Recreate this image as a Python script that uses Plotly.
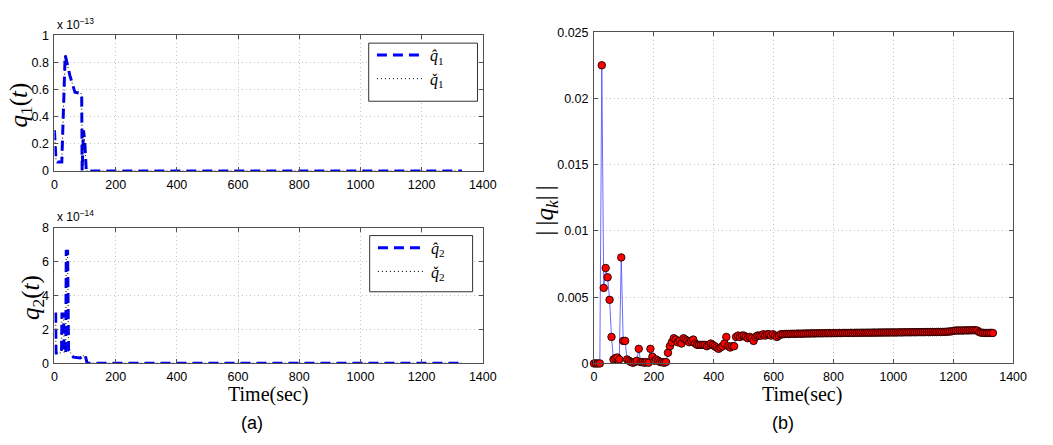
import plotly.graph_objects as go

W, H = 1053, 445

# ---------------- Data ----------------
# Panel (a) top: q1(t), values in units of 1e-13
q1_time = [0, 5, 10, 24, 35, 51, 67, 89, 90.5, 95, 99, 104, 1332]
q1_hat = [0.30, 0.08, 0.066, 0.066, 0.855, 0.70, 0.58, 0.57, 0.0, 0.30, 0.22, 0.0, 0.0]
q1_check = [0.30, 0.08, 0.066, 0.066, 0.855, 0.70, 0.58, 0.57, 0.0, 0.30, 0.22, 0.0, 0.0]

# Panel (a) bottom: q2(t), values in units of 1e-14
q2_time = [0, 4, 5, 23, 24.5, 30, 31.5, 37, 38.5, 43, 46, 62, 84, 95, 100, 106, 110, 1332]
q2_hat = [2.9, 2.9, 0.6, 0.6, 2.9, 2.9, 0.6, 0.6, 6.6, 6.6, 0.8, 0.35, 0.3, 0.45, 0.5, 0.05, 0.0, 0.0]
q2_check = [2.9, 2.9, 0.6, 0.6, 2.9, 2.9, 0.6, 0.6, 6.6, 6.6, 0.8, 0.35, 0.3, 0.45, 0.5, 0.05, 0.0, 0.0]

# Panel (b): ||q_k|| sampled every 6.5 s
qk_norm = [
    0, 0, 0, 0, 0.0225, 0.0057, 0.0072, 0.0065, 0.0048, 0.0020,
    0.0003, 0.0004, 0.00045, 0.0003, 0.0080, 0.0017, 0.0017, 0.0003, 0.0002, 0.0001,
    0.00005, 0.0001, 0.0002, 0.0011, 0.0001, 0.0001, 0.00005, 0.0001, 0.00005, 0.0011,
    0.0005, 0.0002, 0.0003, 0.0002, 0.0001, 0.0001, 0.00005, 0.0001, 0.0008, 0.0013,
    0.0016, 0.0019, 0.0018, 0.0016, 0.0017, 0.0015, 0.0019, 0.0018, 0.0017, 0.0016,
    0.0017, 0.0018, 0.0015, 0.0014, 0.0014, 0.0014, 0.0014, 0.0014, 0.0013, 0.0014,
    0.0015, 0.0014, 0.0013, 0.0012, 0.0011, 0.0012, 0.0013, 0.0015, 0.0020, 0.0013,
    0.0012, 0.0013, 0.0013, 0.0020, 0.0021, 0.0020, 0.0021, 0.0021, 0.0020, 0.0019,
    0.0020, 0.0019, 0.0017, 0.0020, 0.0021, 0.0021, 0.0021, 0.0022, 0.0021, 0.0022,
    0.0022, 0.0021, 0.0022, 0.0021, 0.0020, 0.0021, 0.0022, 0.0022,
    0.00222, 0.00223, 0.00222, 0.00223, 0.00224, 0.00223, 0.00224, 0.00225, 0.00224, 0.00225, 0.00225, 0.00226,
    0.00226, 0.00226, 0.00227, 0.00226, 0.00227, 0.00227, 0.00228, 0.00227, 0.00228, 0.00228,
    0.00228, 0.00229, 0.00228, 0.00229, 0.00229, 0.00229, 0.0023, 0.00229, 0.0023, 0.0023,
    0.0023, 0.0023, 0.00231, 0.0023, 0.00231, 0.00231, 0.00231, 0.00231, 0.00232, 0.00231,
    0.00232, 0.00232, 0.00232, 0.00232, 0.00233, 0.00232, 0.00233, 0.00233, 0.00233, 0.00233,
    0.00234, 0.00233, 0.00234, 0.00234, 0.00234, 0.00234, 0.00234, 0.00235, 0.00234, 0.00235,
    0.00235, 0.00235, 0.00235, 0.00235, 0.00236, 0.00235, 0.00236, 0.00236, 0.00236, 0.00236,
    0.00236, 0.00237, 0.00236, 0.00237, 0.00237, 0.00237, 0.00237, 0.00238, 0.00237, 0.00238,
    0.00238, 0.00239, 0.0024, 0.00241, 0.00243,
    0.00247, 0.00248, 0.00248, 0.00249, 0.00248, 0.00249, 0.0025, 0.00249, 0.0025, 0.0025, 0.00251, 0.0025, 0.00248,
    0.00236, 0.00232, 0.00231, 0.0023, 0.0023, 0.0023, 0.00231, 0.0023,
]
qk_time = [6.5 * i for i in range(len(qk_norm))]

x_ticks = [0, 200, 400, 600, 800, 1000, 1200, 1400]
q1_ticks = [0, 0.2, 0.4, 0.6, 0.8, 1]
q1_ticklabels = ["0", "0.2", "0.4", "0.6", "0.8", "1"]
q2_ticks = [0, 2, 4, 6, 8]
qk_ticks = [0, 0.005, 0.01, 0.015, 0.02, 0.025]
qk_ticklabels = ["0", "0.005", "0.01", "0.015", "0.02", "0.025"]

# ---------------- Figure ----------------
def px_x(p):
    return p / W

def px_y(p):
    return 1 - p / H

fig = go.Figure()

BLUE = "#0000ff"
dash_blue = "10px,6px"

fig.add_trace(go.Scatter(x=q1_time, y=q1_hat, mode="lines", name="<i>q̂</i><sub>1</sub>",
                         line=dict(color=BLUE, width=3, dash=dash_blue), xaxis="x", yaxis="y",
                         legend="legend", cliponaxis=False))
fig.add_trace(go.Scatter(x=q1_time, y=q1_check, mode="lines", name="<i>q̌</i><sub>1</sub>",
                         line=dict(color="black", width=1, dash="1px,3px"), xaxis="x", yaxis="y",
                         legend="legend", cliponaxis=False))
fig.add_trace(go.Scatter(x=q2_time, y=q2_hat, mode="lines", name="<i>q̂</i><sub>2</sub>",
                         line=dict(color=BLUE, width=3, dash=dash_blue), xaxis="x2", yaxis="y2",
                         legend="legend2", cliponaxis=False))
fig.add_trace(go.Scatter(x=q2_time, y=q2_check, mode="lines", name="<i>q̌</i><sub>2</sub>",
                         line=dict(color="black", width=1, dash="1px,3px"), xaxis="x2", yaxis="y2",
                         legend="legend2", cliponaxis=False))
fig.add_trace(go.Scatter(x=qk_time, y=qk_norm, mode="lines+markers", showlegend=False,
                         line=dict(color="rgba(70,70,255,0.8)", width=1),
                         marker=dict(size=7.5, color="#ff0000", line=dict(color="#1a0000", width=0.9)),
                         xaxis="x3", yaxis="y3", cliponaxis=False))

AX_COLOR = "#505050"
tick_font = dict(family="Liberation Sans, Arial, sans-serif", size=12.5, color="black")

def axis_common():
    return dict(showline=True, linecolor=AX_COLOR, linewidth=1, mirror="ticks",
                ticks="inside", ticklen=4, tickcolor=AX_COLOR, tickwidth=1,
                showgrid=True, gridcolor="#c4c4c4", griddash="1px,3px", gridwidth=1,
                zeroline=False, tickfont=tick_font, fixedrange=True, ticklabelstandoff=2)

# domains
xa_left = [px_x(52.3), px_x(487.7)]
ya_top = [px_y(169.3), px_y(29.3)]
ya_bot = [px_y(367.7), px_y(227.7)]
xa_right = [px_x(600.7), px_x(1026.7)]
ya_right = [px_y(368), px_y(26)]

legend_font = dict(family="Liberation Serif, Times New Roman, serif", size=16, color="black")

fig.update_layout(
    width=W, height=H, autosize=False,
    margin=dict(l=0, r=0, t=0, b=0),
    paper_bgcolor="white", plot_bgcolor="white",
    xaxis=dict(domain=xa_left, anchor="y", range=[0, 1400], tickvals=x_ticks, **axis_common()),
    yaxis=dict(domain=ya_top, anchor="x", range=[0, 1], tickvals=q1_ticks, ticktext=q1_ticklabels, **axis_common()),
    xaxis2=dict(domain=xa_left, anchor="y2", range=[0, 1400], tickvals=x_ticks, **axis_common()),
    yaxis2=dict(domain=ya_bot, anchor="x2", range=[0, 8], tickvals=q2_ticks, **axis_common()),
    xaxis3=dict(domain=xa_right, anchor="y3", range=[0, 1400], tickvals=x_ticks, **axis_common()),
    yaxis3=dict(domain=ya_right, anchor="x3", range=[0, 0.025], tickvals=qk_ticks, ticktext=qk_ticklabels, **axis_common()),
    legend=dict(x=px_x(375), y=px_y(32), xanchor="left", yanchor="top",
                bgcolor="rgba(0,0,0,0)", borderwidth=0, itemwidth=48,
                font=legend_font, tracegroupgap=0),
    legend2=dict(x=px_x(376), y=px_y(231), xanchor="left", yanchor="top",
                 bgcolor="rgba(0,0,0,0)", borderwidth=0, itemwidth=48,
                 font=legend_font, tracegroupgap=0),
    showlegend=True,
)

# legend boxes
shapes = [
    dict(type="rect", xref="paper", yref="paper", x0=px_x(371.7), x1=px_x(482.3), y0=px_y(97.3), y1=px_y(37.3),
         line=dict(color="#333333", width=1), fillcolor="white", layer="above"),
    dict(type="rect", xref="paper", yref="paper", x0=px_x(372.7), x1=px_x(477.3), y0=px_y(294), y1=px_y(236),
         line=dict(color="#333333", width=1), fillcolor="white", layer="above"),
]
fig.update_layout(shapes=shapes)

serif = "Liberation Serif, Times New Roman, serif"
sans = "Liberation Sans, Arial, sans-serif"
annotations = [
    dict(text="x 10<sup>−13</sup>", x=px_x(53), y=px_y(18), xanchor="left", yanchor="middle",
         font=dict(family=sans, size=12, color="black")),
    dict(text="x 10<sup>−14</sup>", x=px_x(53), y=px_y(216), xanchor="left", yanchor="middle",
         font=dict(family=sans, size=12, color="black")),
    dict(text="<i>q</i><sub>1</sub>(<i>t</i>)", x=px_x(18), y=px_y(101), textangle=-90,
         xanchor="center", yanchor="middle", font=dict(family=serif, size=25, color="black")),
    dict(text="<i>q</i><sub>2</sub>(<i>t</i>)", x=px_x(30), y=px_y(300), textangle=-90,
         xanchor="center", yanchor="middle", font=dict(family=serif, size=25, color="black")),
    dict(text="|\u2009|<i>q</i><sub><i>k</i></sub>|\u2009|", x=px_x(552), y=px_y(210), textangle=-90,
         xanchor="center", yanchor="middle", font=dict(family=serif, size=25, color="black")),
    dict(text="Time(sec)", x=px_x(269), y=px_y(400), xanchor="center", yanchor="middle", borderpad=0,
         font=dict(family=serif, size=20, color="black")),
    dict(text="Time(sec)", x=px_x(812.5), y=px_y(400.5), xanchor="center", yanchor="middle", borderpad=0,
         font=dict(family=serif, size=20, color="black")),
    dict(text="(a)", x=px_x(253), y=px_y(430), xanchor="center", yanchor="middle",
         font=dict(family=sans, size=18, color="black")),
    dict(text="(b)", x=px_x(793), y=px_y(429), xanchor="center", yanchor="middle",
         font=dict(family=sans, size=18, color="black")),
]
for a in annotations:
    a.update(xref="paper", yref="paper", showarrow=False)
fig.update_layout(annotations=annotations)

fig.write_html("out.html")
